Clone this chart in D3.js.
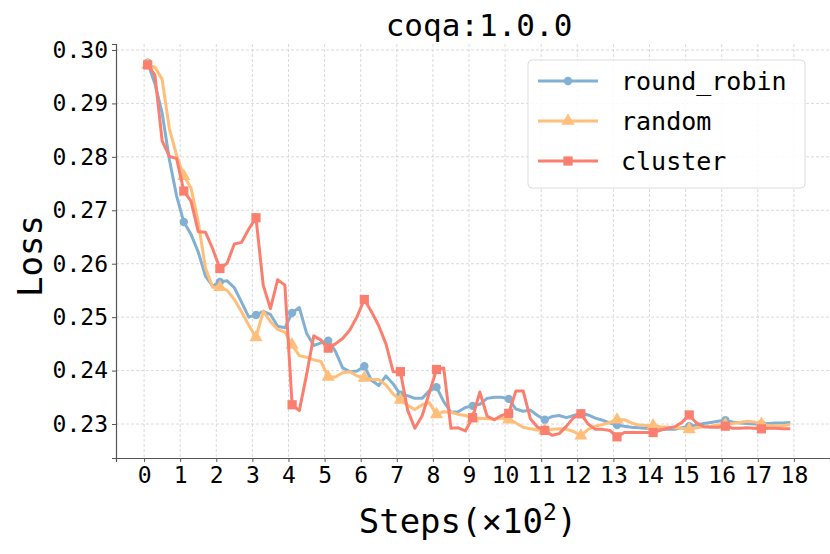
<!DOCTYPE html>
<html>
<head>
<meta charset="UTF-8">
<title>coqa:1.0.0</title>
<script src="https://d3js.org/d3.v7.min.js"></script>
<style>
    body { margin: 0; background: #fff; }
    text { font-family: "DejaVu Sans Mono", monospace; fill: #000; }
</style>
</head>
<body>
<div id="chart"></div>
<script>
// steps in units of 100, sampled every 20 steps
const steps = d3.range(90).map(i => +(0.1 + i * 0.2).toFixed(1));

const roundRobin = [
    0.2976, 0.2937, 0.2882, 0.2795, 0.2727, 0.2678, 0.2655, 0.2622, 0.2577, 0.2558,
    0.2566, 0.2568, 0.2555, 0.2528, 0.2500, 0.2504, 0.2511, 0.2505, 0.2483, 0.2480,
    0.2508, 0.2518, 0.2470, 0.2447, 0.2452, 0.2456, 0.2436, 0.2405, 0.2398, 0.2399,
    0.2408, 0.2382, 0.2372, 0.2390, 0.2375, 0.2355, 0.2353, 0.2348, 0.2348, 0.2362,
    0.2369, 0.2342, 0.2322, 0.2323, 0.2331, 0.2334, 0.2337, 0.2348, 0.2350, 0.2350,
    0.2347, 0.2328, 0.2324, 0.2326, 0.2316, 0.2308, 0.2314, 0.2316, 0.2312, 0.2316,
    0.2320, 0.2317, 0.2311, 0.2307, 0.2302, 0.2298, 0.2296, 0.2294, 0.2293, 0.2292,
    0.2291, 0.2290, 0.2290, 0.2290, 0.2293, 0.2296, 0.2298, 0.2301, 0.2303, 0.2305,
    0.2307, 0.2304, 0.2302, 0.2301, 0.2300, 0.2300, 0.2301, 0.2302, 0.2302, 0.2303
];

const random = [
    0.2972, 0.2968, 0.2945, 0.2853, 0.2803, 0.2764, 0.2742, 0.2678, 0.2592, 0.2556,
    0.2556, 0.2550, 0.2533, 0.2510, 0.2485, 0.2462, 0.2511, 0.2492, 0.2477, 0.2472,
    0.2448, 0.2428, 0.2425, 0.2420, 0.2417, 0.2388, 0.2388, 0.2396, 0.2398, 0.2390,
    0.2386, 0.2384, 0.2383, 0.2373, 0.2356, 0.2345, 0.2335, 0.2327, 0.2336, 0.2340,
    0.2318, 0.2323, 0.2322, 0.2318, 0.2316, 0.2310, 0.2311, 0.2310, 0.2309, 0.2311,
    0.2308, 0.2302, 0.2294, 0.2291, 0.2289, 0.2288, 0.2290, 0.2291, 0.2290, 0.2286,
    0.2278, 0.2290, 0.2296, 0.2299, 0.2303, 0.2308, 0.2308, 0.2302, 0.2298, 0.2297,
    0.2297, 0.2295, 0.2294, 0.2293, 0.2292, 0.2290, 0.2293, 0.2295, 0.2296, 0.2298,
    0.2299, 0.2301, 0.2303, 0.2305, 0.2304, 0.2300, 0.2297, 0.2296, 0.2297, 0.2299
];

const cluster = [
    0.2972, 0.2953, 0.2830, 0.2801, 0.2797, 0.2736, 0.2717, 0.2660, 0.2659, 0.2628,
    0.2591, 0.2601, 0.2637, 0.2640, 0.2665, 0.2686, 0.2560, 0.2516, 0.2570, 0.2560,
    0.2336, 0.2325, 0.2392, 0.2465, 0.2457, 0.2442, 0.2450, 0.2460, 0.2476, 0.2501,
    0.2533, 0.2510, 0.2484, 0.2450, 0.2398, 0.2398, 0.2326, 0.2292, 0.2315, 0.2358,
    0.2402, 0.2405, 0.2292, 0.2293, 0.2287, 0.2312, 0.2360, 0.2315, 0.2308, 0.2316,
    0.2320, 0.2362, 0.2362, 0.2310, 0.2294, 0.2288, 0.2279, 0.2282, 0.2296, 0.2312,
    0.2319, 0.2300, 0.2290, 0.2290, 0.2288, 0.2276, 0.2284, 0.2284, 0.2284, 0.2284,
    0.2284, 0.2288, 0.2292, 0.2295, 0.2303, 0.2317, 0.2302, 0.2295, 0.2294, 0.2294,
    0.2296, 0.2292, 0.2292, 0.2293, 0.2292, 0.2291, 0.2292, 0.2292, 0.2291, 0.2291
];

const seriesNames = ["round_robin", "random", "cluster"];
const seriesColors = ["#82B0D2", "#FFBE7A", "#FA7F6F"];
const seriesMarkers = [d3.symbolCircle, d3.symbolTriangle, d3.symbolSquare];
const markerSizes = [55, 75, 85];
const xTicks = d3.range(0, 19);
const yTicks = [0.23, 0.24, 0.25, 0.26, 0.27, 0.28, 0.29, 0.30];

const W = 830, H = 554;
const margin = { top: 44, right: 0, bottom: 96, left: 116 };

const svg = d3.select("#chart").append("svg")
    .attr("width", W)
    .attr("height", H);

const x = d3.scaleLinear()
    .domain([-0.778, 19.0])
    .range([margin.left, W - margin.right]);

const y = d3.scaleLinear()
    .domain([0.22364, 0.30112])
    .range([H - margin.bottom, margin.top]);

// grid
const grid = svg.append("g")
    .attr("stroke", "#d0d0d0")
    .attr("stroke-width", 0.8)
    .attr("stroke-dasharray", "3,2");
grid.selectAll(".vg").data(xTicks).enter().append("line")
    .attr("x1", d => x(d)).attr("x2", d => x(d))
    .attr("y1", margin.top).attr("y2", H - margin.bottom);
grid.selectAll(".hg").data(yTicks).enter().append("line")
    .attr("x1", margin.left).attr("x2", W - margin.right)
    .attr("y1", d => y(d)).attr("y2", d => y(d));

// axes
const xAxis = svg.append("g")
    .attr("transform", `translate(0,${H - margin.bottom})`)
    .call(d3.axisBottom(x).tickValues(xTicks).tickSize(4).tickPadding(5).tickFormat(d3.format("d")));
const yAxis = svg.append("g")
    .attr("transform", `translate(${margin.left},0)`)
    .call(d3.axisLeft(y).tickValues(yTicks).tickSize(4).tickPadding(4).tickFormat(d3.format(".2f")));

[xAxis, yAxis].forEach(a => {
    a.select(".domain").attr("stroke", "#555").attr("stroke-width", 1.2);
    a.selectAll(".tick line").attr("stroke", "#555");
    a.selectAll(".tick text")
        .style("font-family", "DejaVu Sans Mono")
        .style("font-size", "23px")
        .attr("fill", "#000");
});

// lines + markers
const line = d3.line()
    .x((d, i) => x(steps[i]))
    .y(d => y(d));

[roundRobin, random, cluster].forEach((vals, k) => {
    svg.append("path")
        .datum(vals)
        .attr("fill", "none")
        .attr("stroke", seriesColors[k])
        .attr("stroke-width", 3)
        .attr("stroke-linejoin", "round")
        .attr("d", line);

    const marks = vals.map((v, i) => ({ v, i })).filter(d => d.i % 5 === 0);
    svg.selectAll(null)
        .data(marks)
        .enter().append("path")
        .attr("d", d3.symbol().type(seriesMarkers[k]).size(markerSizes[k]))
        .attr("transform", d => `translate(${x(steps[d.i])},${y(d.v)})`)
        .attr("fill", seriesColors[k]);
});

// title and axis labels
svg.append("text")
    .attr("x", 479).attr("y", 36)
    .attr("text-anchor", "middle")
    .style("font-size", "31px")
    .text("coqa:1.0.0");

svg.append("text")
    .attr("transform", "translate(42,256) rotate(-90)")
    .attr("text-anchor", "middle")
    .style("font-size", "34px")
    .text("Loss");

const xl = svg.append("text")
    .attr("x", 468).attr("y", 533)
    .attr("text-anchor", "middle")
    .style("font-size", "34px");
xl.append("tspan").text("Steps(×10");
xl.append("tspan").attr("dy", -13).style("font-size", "23px").text("2");
xl.append("tspan").attr("dy", 13).text(")");

// legend
const legend = svg.append("g");
legend.append("rect")
    .attr("x", 528).attr("y", 60)
    .attr("width", 277).attr("height", 128)
    .attr("rx", 4)
    .attr("fill", "#fff").attr("fill-opacity", 0.85)
    .attr("stroke", "#dcdcdc");

seriesNames.forEach((name, k) => {
    const ly = 81 + k * 40;
    legend.append("line")
        .attr("x1", 538).attr("x2", 598)
        .attr("y1", ly).attr("y2", ly)
        .attr("stroke", seriesColors[k])
        .attr("stroke-width", 3);
    legend.append("path")
        .attr("d", d3.symbol().type(seriesMarkers[k]).size(markerSizes[k]))
        .attr("transform", `translate(568,${ly})`)
        .attr("fill", seriesColors[k]);
    legend.append("text")
        .attr("x", 621).attr("y", ly + 9)
        .style("font-size", "25px")
        .text(name);
});
</script>
</body>
</html>
